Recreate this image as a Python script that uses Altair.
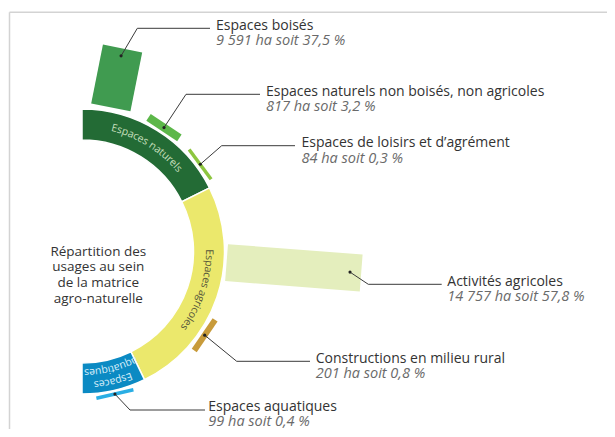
import math
import pandas as pd
import altair as alt

# ---------------- data ----------------
ring_labels = ["Espaces naturels", "Espaces agricoles", "Espaces aquatiques"]
ring_start_deg = [0.0, 63.5, 154.0]
ring_end_deg = [63.5, 154.0, 180.0]

usage_labels = [
    "Espaces boisés",
    "Espaces naturels non boisés, non agricoles",
    "Espaces de loisirs et d’agrément",
    "Activités agricoles",
    "Constructions en milieu rural",
    "Espaces aquatiques",
]
usage_ha = [9591, 817, 84, 14757, 201, 99]
usage_pct = [37.5, 3.2, 0.3, 57.8, 0.8, 0.4]
usage_angle_deg = [11.3, 33.5, 53.6, 94.4, 124.3, 167.0]
usage_r_inner = [147.0, 144.5, 145.0, 145.0, 145.5, 144.5]
usage_r_outer = [207.0, 152.5, 148.5, 280.0, 151.5, 148.0]

title_lines = ["Répartition des", "usages au sein", "de la matrice", "agro-naturelle"]

# ---------------- layout / styles ----------------
W, H = 599, 421
CXP, CYP = 82.0, 251.5          # circle centre on the page
PX, PY = CXP - 8, CYP - 8       # circle centre in the plot
R_IN, R_OUT = 111.5, 142.5
FONT = "Open Sans"

ring_colors = ["#236b35", "#ebe86c", "#0b8ac3"]
ring_text_colors = ["#c3dfbb", "#55553a", "#d8eefa"]
usage_colors = ["#409b50", "#5cb749", "#8dc63f", "#e4eebd", "#c89b3a", "#2aaee4"]
bar_width_px = [40, 37, 37, 37, 37, 38]
dot_r = [199.5, 148.6, 147.0, 268.8, 148.5, 146.3]
# leader elbow (page x, page y), end of horizontal line (page x), text x (page)
elbow_x = [137.3, 186.0, 221.7, 368.3, 236.7, 130.0]
elbow_y = [28.3, 94.3, 145.7, 284.3, 361.3, 410.0]
line_end_x = [210.0, 260.0, 295.0, 441.7, 310.0, 205.0]
text_x = [216.0, 266.0, 301.5, 447.3, 315.7, 208.3]
sub_dy = [17.0, 17.0, 17.0, 17.0, 17.0, 16.2]

xs = alt.Scale(domain=[-PX, W - PX], nice=False, zero=False)
ys = alt.Scale(domain=[-PY, H - PY], nice=False, zero=False, reverse=True)


def fmt_ha(v):
    return f"{v:,}".replace(",", " ")


def fmt_pct(p):
    return f"{p:.1f}".replace(".", ",")


# ---------------- tables ----------------
ring_df = pd.DataFrame({
    "name": ring_labels,
    "start": ring_start_deg,
    "end": ring_end_deg,
    "color": ring_colors,
})

bar_df = pd.DataFrame({
    "name": usage_labels,
    "angle": usage_angle_deg,
    "r_in": usage_r_inner,
    "r_out": usage_r_outer,
    "w": bar_width_px,
    "color": usage_colors,
})

lead_df = pd.DataFrame({
    "name": usage_labels,
    "angle": usage_angle_deg,
    "dr": dot_r,
    "ex": [v - CXP for v in elbow_x],
    "ey": [v - CYP for v in elbow_y],
    "endx": [v - CXP for v in line_end_x],
    "tx": [v - CXP for v in text_x],
    "sdy": sub_dy,
    "title": usage_labels,
    "sub": [f"{fmt_ha(h)} ha soit {fmt_pct(p)} %" for h, p in zip(usage_ha, usage_pct)],
})

# character widths (em) for Open Sans, to bend the ring labels along the arc
CW = {" ": 0.26, "a": 0.556, "c": 0.479, "e": 0.561, "g": 0.55, "i": 0.258,
      "l": 0.258, "n": 0.613, "o": 0.602, "p": 0.613, "q": 0.613, "r": 0.408,
      "s": 0.479, "t": 0.361, "u": 0.613, "E": 0.556}
RING_FS = 10.5


def arc_chars(text, mid_deg, r, color):
    widths = [CW.get(ch, 0.55) * RING_FS for ch in text]
    acc = -sum(widths) / 2
    rows = []
    for ch, w in zip(text, widths):
        c = acc + w / 2
        th = mid_deg + math.degrees(c / r)
        if ch != " ":
            rows.append({"ch": ch, "theta": th, "r": r, "color": color})
        acc += w
    return rows


char_rows = []
char_rows += arc_chars("Espaces naturels", 32.0, 127.0, ring_text_colors[0])
char_rows += arc_chars("Espaces agricoles", 108.3, 127.0, ring_text_colors[1])
char_rows += arc_chars("Espaces", 166.5, 133.5, ring_text_colors[2])
char_rows += arc_chars("aquatiques", 166.0, 121.0, ring_text_colors[2])
char_df = pd.DataFrame(char_rows)

title_df = pd.DataFrame({"x": [98.3 - CXP], "y": [0.0], "t": [title_lines]})

# ---------------- layers ----------------
frame_top = alt.Chart(pd.DataFrame({"k": [0]})).mark_rule(color="#d3d3d3", strokeWidth=1.5).encode(
    x=alt.value(1.5), x2=alt.value(W), y=alt.value(4.3))
frame_left = alt.Chart(pd.DataFrame({"k": [0]})).mark_rule(color="#d3d3d3", strokeWidth=1.5).encode(
    x=alt.value(1.5), y=alt.value(4.3), y2=alt.value(H))

ring = alt.Chart(ring_df).transform_calculate(
    t1="datum.start * PI / 180").transform_calculate(
    t2="datum.end * PI / 180").mark_arc(stroke="white", strokeWidth=1.5).encode(
    theta=alt.Theta("t1:Q", scale=None),
    theta2="t2:Q",
    radius=alt.value(R_OUT),
    radius2=alt.value(R_IN),
    x=alt.value(PX),
    y=alt.value(PY),
    color=alt.Color("color:N", scale=None),
)

bars = alt.Chart(bar_df).transform_calculate(
    a="datum.angle * PI / 180").transform_calculate(
    x1="datum.r_in * sin(datum.a)").transform_calculate(
    y1="-datum.r_in * cos(datum.a)").transform_calculate(
    x2="datum.r_out * sin(datum.a)").transform_calculate(
    y2="-datum.r_out * cos(datum.a)").mark_rule(strokeCap="butt").encode(
    x=alt.X("x1:Q", scale=xs, axis=None),
    y=alt.Y("y1:Q", scale=ys, axis=None),
    x2="x2:Q",
    y2="y2:Q",
    color=alt.Color("color:N", scale=None),
    strokeWidth=alt.StrokeWidth("w:Q", scale=None),
)

lead_base = alt.Chart(lead_df).transform_calculate(
    a="datum.angle * PI / 180").transform_calculate(
    xd="datum.dr * sin(datum.a)").transform_calculate(
    yd="-datum.dr * cos(datum.a)")

lead1 = lead_base.mark_rule(color="#3a3a3a", strokeWidth=1).encode(
    x=alt.X("xd:Q", scale=xs, axis=None), y=alt.Y("yd:Q", scale=ys, axis=None),
    x2="ex:Q", y2="ey:Q")
lead2 = lead_base.mark_rule(color="#3a3a3a", strokeWidth=1).encode(
    x=alt.X("ex:Q", scale=xs, axis=None), y=alt.Y("ey:Q", scale=ys, axis=None),
    x2="endx:Q")
dots = lead_base.mark_circle(color="#222222", opacity=1, size=10).encode(
    x=alt.X("xd:Q", scale=xs, axis=None), y=alt.Y("yd:Q", scale=ys, axis=None))

titles = lead_base.transform_calculate(ty="datum.ey + 1.2").mark_text(
    align="left", baseline="alphabetic", font=FONT, fontSize=14, fontWeight=500,
    color="#333333").encode(
    x=alt.X("tx:Q", scale=xs, axis=None), y=alt.Y("ty:Q", scale=ys, axis=None),
    text="title:N")
subs = lead_base.transform_calculate(ty="datum.ey + datum.sdy").mark_text(
    align="left", baseline="alphabetic", font=FONT, fontSize=14.5, fontStyle="italic",
    color="#6a6a6a").encode(
    x=alt.X("tx:Q", scale=xs, axis=None), y=alt.Y("ty:Q", scale=ys, axis=None),
    text="sub:N")

ring_text = alt.Chart(char_df).transform_calculate(
    a="datum.theta * PI / 180").transform_calculate(
    x="datum.r * sin(datum.a)").transform_calculate(
    y="-datum.r * cos(datum.a)").mark_text(
    align="center", baseline="middle", font=FONT, fontSize=RING_FS).encode(
    x=alt.X("x:Q", scale=xs, axis=None),
    y=alt.Y("y:Q", scale=ys, axis=None),
    text="ch:N",
    angle=alt.Angle("theta:Q", scale=None),
    color=alt.Color("color:N", scale=None),
)

center_title = alt.Chart(title_df).mark_text(
    align="center", baseline="middle", font=FONT, fontSize=13.5, fontWeight=500,
    lineHeight=15.8, color="#333333").encode(
    x=alt.X("x:Q", scale=xs, axis=None),
    y=alt.Y("y:Q", scale=ys, axis=None),
    text="t",
)

chart = alt.layer(
    frame_top, frame_left, ring, bars, lead1, lead2, dots, titles, subs, ring_text, center_title
).properties(
    width=W, height=H, padding=0, autosize=alt.AutoSizeParams(type="none")
).configure_view(stroke=None)

chart.save("out.html", embed_options={"renderer": "svg", "actions": False})
